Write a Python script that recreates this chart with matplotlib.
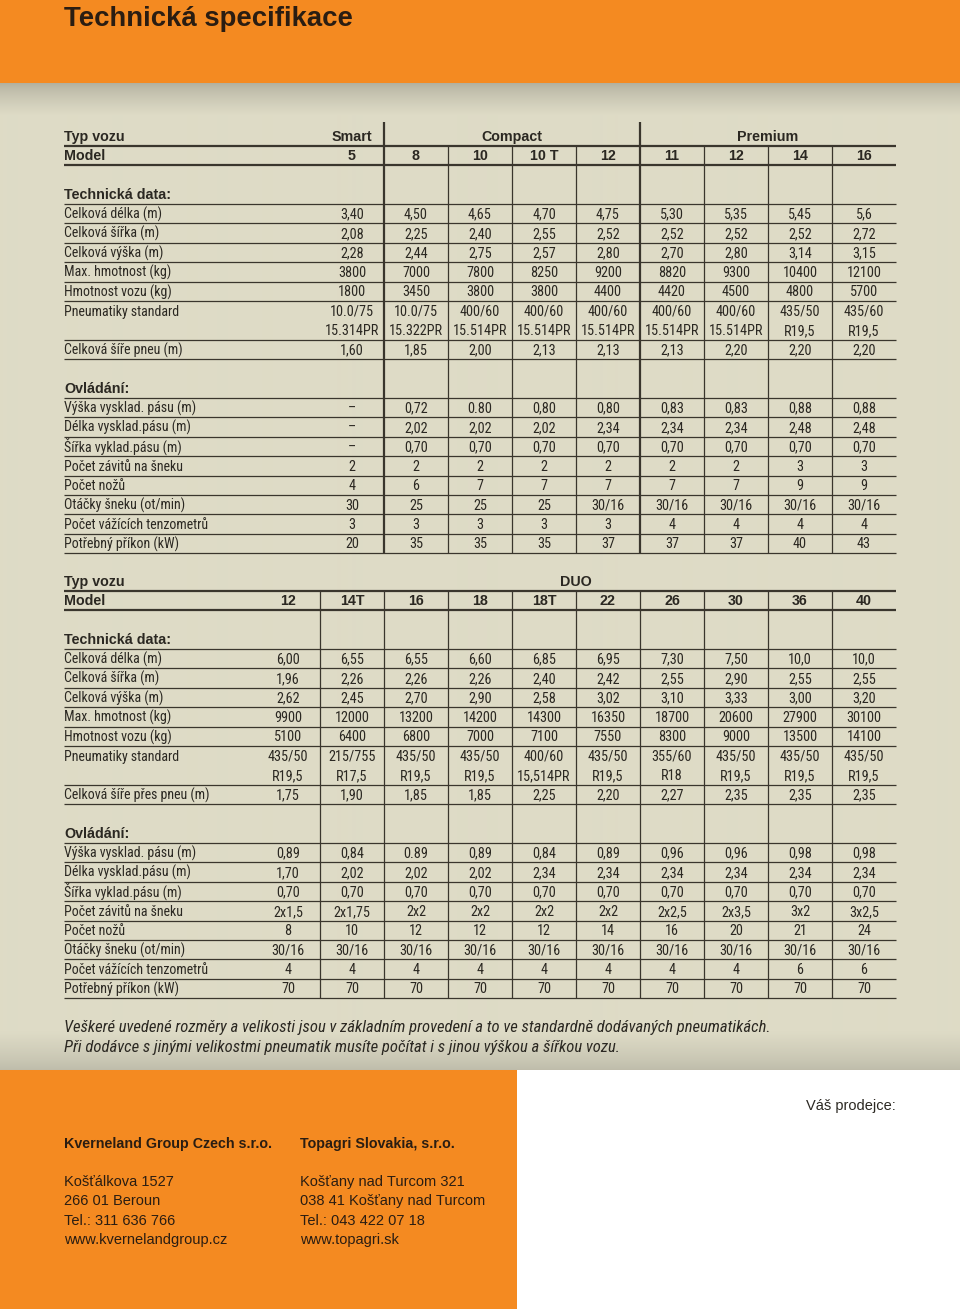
import numpy as np
import matplotlib
matplotlib.use('Agg')
import matplotlib.pyplot as plt
from matplotlib import font_manager as fm
from matplotlib.patches import Rectangle

# ---- table 1: Smart / Compact / Premium
t1_groups = ['Smart', 'Compact', 'Premium']
t1_group_sizes = [1, 4, 4]
t1_models = ['5', '8', '10', '10 T', '12', '11', '12', '14', '16']
t1_delka = ['3,40', '4,50', '4,65', '4,70', '4,75', '5,30', '5,35', '5,45', '5,6']
t1_sirka = ['2,08', '2,25', '2,40', '2,55', '2,52', '2,52', '2,52', '2,52', '2,72']
t1_vyska = ['2,28', '2,44', '2,75', '2,57', '2,80', '2,70', '2,80', '3,14', '3,15']
t1_max_hm = ['3800', '7000', '7800', '8250', '9200', '8820', '9300', '10400', '12100']
t1_hm_vozu = ['1800', '3450', '3800', '3800', '4400', '4420', '4500', '4800', '5700']
t1_pneu_a = ['10.0/75', '10.0/75', '400/60', '400/60', '400/60', '400/60', '400/60', '435/50', '435/60']
t1_pneu_b = ['15.314PR', '15.322PR', '15.514PR', '15.514PR', '15.514PR', '15.514PR', '15.514PR', 'R19,5', 'R19,5']
t1_sire_pneu = ['1,60', '1,85', '2,00', '2,13', '2,13', '2,13', '2,20', '2,20', '2,20']
t1_vyska_pasu = ['–', '0,72', '0.80', '0,80', '0,80', '0,83', '0,83', '0,88', '0,88']
t1_delka_pasu = ['–', '2,02', '2,02', '2,02', '2,34', '2,34', '2,34', '2,48', '2,48']
t1_sirka_pasu = ['–', '0,70', '0,70', '0,70', '0,70', '0,70', '0,70', '0,70', '0,70']
t1_zavity = ['2', '2', '2', '2', '2', '2', '2', '3', '3']
t1_noze = ['4', '6', '7', '7', '7', '7', '7', '9', '9']
t1_otacky = ['30', '25', '25', '25', '30/16', '30/16', '30/16', '30/16', '30/16']
t1_tenzometry = ['3', '3', '3', '3', '3', '4', '4', '4', '4']
t1_prikon = ['20', '35', '35', '35', '37', '37', '37', '40', '43']

# ---- table 2: DUO
t2_groups = ['DUO']
t2_group_sizes = [10]
t2_models = ['12', '14T', '16', '18', '18T', '22', '26', '30', '36', '40']
t2_delka = ['6,00', '6,55', '6,55', '6,60', '6,85', '6,95', '7,30', '7,50', '10,0', '10,0']
t2_sirka = ['1,96', '2,26', '2,26', '2,26', '2,40', '2,42', '2,55', '2,90', '2,55', '2,55']
t2_vyska = ['2,62', '2,45', '2,70', '2,90', '2,58', '3,02', '3,10', '3,33', '3,00', '3,20']
t2_max_hm = ['9900', '12000', '13200', '14200', '14300', '16350', '18700', '20600', '27900', '30100']
t2_hm_vozu = ['5100', '6400', '6800', '7000', '7100', '7550', '8300', '9000', '13500', '14100']
t2_pneu_a = ['435/50', '215/755', '435/50', '435/50', '400/60', '435/50', '355/60', '435/50', '435/50', '435/50']
t2_pneu_b = ['R19,5', 'R17,5', 'R19,5', 'R19,5', '15,514PR', 'R19,5', 'R18', 'R19,5', 'R19,5', 'R19,5']
t2_sire_pneu = ['1,75', '1,90', '1,85', '1,85', '2,25', '2,20', '2,27', '2,35', '2,35', '2,35']
t2_vyska_pasu = ['0,89', '0,84', '0.89', '0,89', '0,84', '0,89', '0,96', '0,96', '0,98', '0,98']
t2_delka_pasu = ['1,70', '2,02', '2,02', '2,02', '2,34', '2,34', '2,34', '2,34', '2,34', '2,34']
t2_sirka_pasu = ['0,70'] * 10
t2_zavity = ['2x1,5', '2x1,75', '2x2', '2x2', '2x2', '2x2', '2x2,5', '2x3,5', '3x2', '3x2,5']
t2_noze = ['8', '10', '12', '12', '12', '14', '16', '20', '21', '24']
t2_otacky = ['30/16'] * 10
t2_tenzometry = ['4', '4', '4', '4', '4', '4', '4', '4', '6', '6']
t2_prikon = ['70'] * 10

tech_labels = ['Celková délka (m)', 'Celková šířka (m)', 'Celková výška (m)',
               'Max. hmotnost (kg)', 'Hmotnost vozu (kg)']
ctrl_labels = ['Výška vysklad. pásu (m)', 'Délka vysklad.pásu (m)', 'Šířka vyklad.pásu (m)',
               'Počet závitů na šneku', 'Počet nožů', 'Otáčky šneku (ot/min)',
               'Počet vážících tenzometrů', 'Potřebný příkon (kW)']

note_lines = ['Veškeré uvedené rozměry a velikosti jsou v základním provedení a to ve standardně dodávaných pneumatikách.',
              'Při dodávce s jinými velikostmi pneumatik musíte počítat i s jinou výškou a šířkou vozu.']
company_cz = ['Kverneland Group Czech s.r.o.', 'Košťálkova 1527', '266 01 Beroun',
              'Tel.: 311 636 766', 'www.kvernelandgroup.cz']
company_sk = ['Topagri Slovakia, s.r.o.', 'Košťany nad Turcom 321', '038 41 Košťany nad Turcom',
              'Tel.: 043 422 07 18', 'www.topagri.sk']

ORANGE = '#f48a21'
INK = '#2b2822'
RULE = '#3a362d'

avail = {f.name for f in fm.fontManager.ttflist}
NARROW = next((f for f in ['Liberation Sans Narrow', 'DejaVu Sans Condensed', 'Roboto Condensed']
               if f in avail), 'Liberation Sans')
SANS = 'Liberation Sans'

LEFT, RIGHT, COLW, PITCH = 64, 896, 64, 19.4

fig = plt.figure(figsize=(9.6, 13.09), dpi=100)
ax = fig.add_axes([0, 0, 1, 1])
ax.set_xlim(0, 960)
ax.set_ylim(1309, 0)
ax.axis('off')

# background: orange header, shaded beige body, orange/white footer
ys = np.arange(83, 1070) + 0.5
beige = np.array([222, 219, 198]) / 255
shade_top = np.array([176, 174, 157]) / 255
shade_bot = np.array([190, 188, 170]) / 255
wt = np.clip((ys - 83) / 32, 0, 1) ** 0.7
wb = np.clip((1070 - ys) / 38, 0, 1) ** 0.8
col = beige[None, :] * np.minimum(wt, wb)[:, None]
col += shade_top[None, :] * (1 - wt)[:, None] * (wt <= wb)[:, None]
col += shade_bot[None, :] * (1 - wb)[:, None] * (wb < wt)[:, None]
ax.imshow(col[:, None, :], extent=(0, 960, 1070, 83), aspect='auto', zorder=0, interpolation='bilinear')
ax.add_patch(Rectangle((0, 0), 960, 83, color=ORANGE, zorder=1, lw=0))
ax.add_patch(Rectangle((0, 1070), 517, 239, color=ORANGE, zorder=1, lw=0))
ax.add_patch(Rectangle((517, 1070), 443, 239, color='white', zorder=1, lw=0))

ax.text(LEFT, 26, 'Technická specifikace', family=SANS, weight='bold', fontsize=19.8,
        color='#2a1d12', va='baseline', ha='left', zorder=3)


def put(x, y, s, bold=False, ha='left', size=10.3):
    fam = SANS if bold else NARROW
    ax.text(x, y + 5, s, family=fam, weight='bold' if bold else 'normal',
            fontsize=10.3 if bold else size, color=INK, ha=ha, va='baseline', zorder=3)


def draw_table(y0, groups, sizes, models, tech, pneu_a, pneu_b, sire_label, sire, ctrl, group_rules):
    n = len(models)
    x0 = RIGHT - n * COLW
    centers = x0 + COLW * (np.arange(n) + 0.5)
    ry = lambda i: y0 + PITCH * i
    ly = lambda i: y0 + PITCH * (i + 0.5)

    put(LEFT, ry(0), 'Typ vozu', bold=True)
    start = 0
    for g, k in zip(groups, sizes):
        put(centers[start:start + k].mean(), ry(0), g, bold=True, ha='center')
        start += k
    put(LEFT, ry(1), 'Model', bold=True)
    for c, m in zip(centers, models):
        put(c, ry(1), m, bold=True, ha='center')

    put(LEFT, ry(3), 'Technická data:', bold=True)
    for i, (lab, vals) in enumerate(zip(tech_labels, tech)):
        put(LEFT, ry(4 + i), lab, size=10)
        for c, v in zip(centers, vals):
            put(c, ry(4 + i), v, ha='center')
    put(LEFT, ry(9), 'Pneumatiky standard', size=10)
    for c, a, b in zip(centers, pneu_a, pneu_b):
        put(c, ry(9), a, ha='center')
        put(c, ry(10), b, ha='center')
    put(LEFT, ry(11), sire_label, size=10)
    for c, v in zip(centers, sire):
        put(c, ry(11), v, ha='center')

    put(LEFT, ry(13), 'Ovládání:', bold=True)
    for i, (lab, vals) in enumerate(zip(ctrl_labels, ctrl)):
        put(LEFT, ry(14 + i), lab, size=10)
        for c, v in zip(centers, vals):
            put(c, ry(14 + i), v, ha='center')

    # rules
    for i in (0, 1):
        ax.plot([LEFT, RIGHT], [ly(i), ly(i)], color=RULE, lw=1.6, zorder=2, solid_capstyle='butt')
    for i in [3, 4, 5, 6, 7, 8, 10, 11] + list(range(13, 22)):
        ax.plot([LEFT, RIGHT], [ly(i), ly(i)], color=RULE, lw=0.9, zorder=2, solid_capstyle='butt')
    bounds = np.cumsum(sizes)[:-1]
    for j in range(1, n):
        xb = x0 + j * COLW
        if group_rules and j in bounds:
            ax.plot([xb, xb], [ry(0) - 14, ly(21)], color=RULE, lw=1.6, zorder=2, solid_capstyle='butt')
        else:
            ax.plot([xb, xb], [ly(0), ly(21)], color=RULE, lw=0.9, zorder=2, solid_capstyle='butt')


draw_table(136, t1_groups, t1_group_sizes, t1_models,
           [t1_delka, t1_sirka, t1_vyska, t1_max_hm, t1_hm_vozu], t1_pneu_a, t1_pneu_b,
           'Celková šíře pneu (m)', t1_sire_pneu,
           [t1_vyska_pasu, t1_delka_pasu, t1_sirka_pasu, t1_zavity, t1_noze, t1_otacky, t1_tenzometry, t1_prikon],
           True)
draw_table(581, t2_groups, t2_group_sizes, t2_models,
           [t2_delka, t2_sirka, t2_vyska, t2_max_hm, t2_hm_vozu], t2_pneu_a, t2_pneu_b,
           'Celková šíře přes pneu (m)', t2_sire_pneu,
           [t2_vyska_pasu, t2_delka_pasu, t2_sirka_pasu, t2_zavity, t2_noze, t2_otacky, t2_tenzometry, t2_prikon],
           False)

for k, line in enumerate(note_lines):
    ax.text(LEFT, 1032 + 20 * k, line, family=NARROW, style='italic', fontsize=12,
            color=INK, va='baseline', zorder=3)

ax.text(896, 1110, 'Váš prodejce:', family=SANS, fontsize=10.5, color=INK, ha='right', va='baseline', zorder=3)

for x, lines in ((LEFT, company_cz), (300, company_sk)):
    ax.text(x, 1148, lines[0], family=SANS, weight='bold', fontsize=10.3, color='#2a1d12', va='baseline', zorder=3)
    for k, s in enumerate(lines[1:]):
        ax.text(x, 1186 + 19.4 * k, s, family=SANS, fontsize=10.5, color='#2a1d12', va='baseline', zorder=3)

fig.savefig('out.png', dpi=100)
